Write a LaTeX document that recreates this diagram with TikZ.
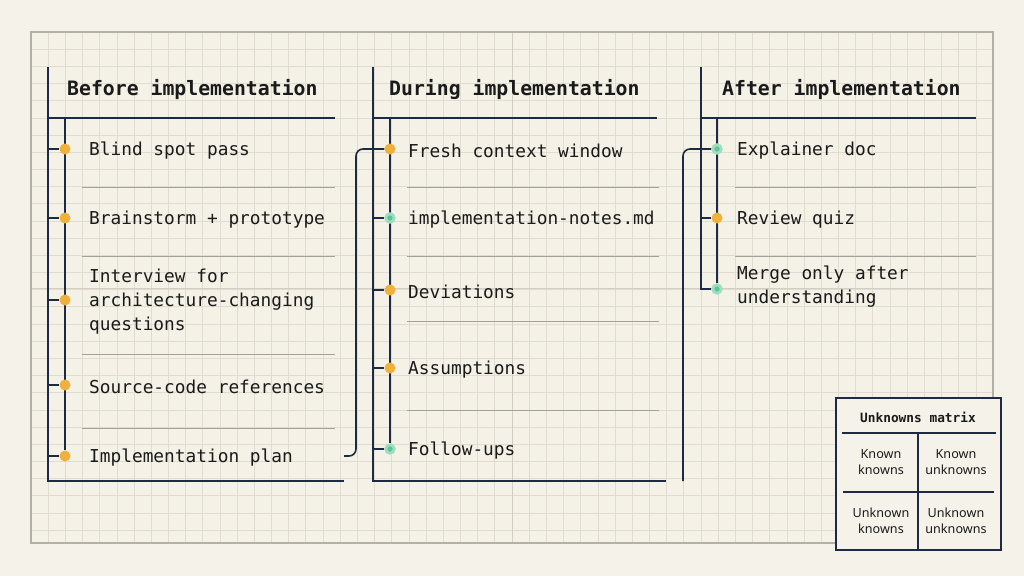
\documentclass[tikz,border=0pt]{standalone}
\usepackage{fontspec}
\usepackage{xcolor}
\usetikzlibrary{positioning,backgrounds}
\newfontfamily\monofont{DejaVu Sans Mono}
\newfontfamily\cellfont{Noto Sans}
\definecolor{paper}{HTML}{F5F2E9}
\definecolor{panel}{HTML}{F4F1E7}
\definecolor{gridline}{HTML}{E0DCD0}
\definecolor{gridmajor}{HTML}{D2CEC3}
\definecolor{paneledge}{HTML}{B3B0A6}
\definecolor{navy}{HTML}{1E2A44}
\definecolor{rulegrey}{HTML}{A3A199}
\definecolor{ink}{HTML}{1A1A1A}
\definecolor{dotorange}{HTML}{F0B13C}
\definecolor{dotgreen}{HTML}{5FC594}
\definecolor{halo}{HTML}{9FDDC2}

\begin{document}
\begin{tikzpicture}[x=1pt, y=-1pt,
  frame/.style={draw=navy, line width=1.6pt},
  link/.style={draw=navy, line width=1.6pt, rounded corners=7pt},
  sep/.style={draw=rulegrey, line width=1pt},
  head/.style={font=\monofont\bfseries\fontsize{19.8}{24}\selectfont, text=ink, anchor=base west, inner sep=0pt},
  item/.style={font=\monofont\fontsize{17.8}{24}\selectfont, text=ink, align=left, inner sep=0pt, anchor=west, yshift=-1.5pt},
  warm/.style={circle, fill=dotorange, minimum size=11pt, inner sep=0pt},
  cool/.style={circle, fill=dotgreen, draw=halo, line width=2.8pt, minimum size=8.5pt, inner sep=0pt},
  mxbox/.style={draw=navy, line width=1.3pt, fill=paper, minimum width=165pt, minimum height=152pt, inner sep=0pt},
  mxtitle/.style={font=\monofont\bfseries\fontsize{12.8}{15}\selectfont, text=ink, inner sep=0pt},
  cell/.style={font=\cellfont\fontsize{12.6}{16}\selectfont, text=ink, align=center, inner sep=0pt}]
  \useasboundingbox (0,0) rectangle (1024,576);

  % column corners and text margins
  \coordinate (bTop) at (48,67);
  \coordinate (bEnd) at (344,481);
  \coordinate (dTop) at (373,67);
  \coordinate (dEnd) at (666,481);
  \coordinate (aTop) at (701,67);
  \coordinate (dFoot) at (683,481);
  \coordinate (bText) at (89,0);
  \coordinate (dText) at (408,0);
  \coordinate (aText) at (737,0);

  % before
  \node[head] (bHead) at (67,95) {Before implementation};
  \node[warm] (b1) at (65,149) {};
  \node[warm] (b2) at (65,218) {};
  \node[warm] (b3) at (65,300) {};
  \node[warm] (b4) at (65,385) {};
  \node[warm] (b5) at (65,456) {};
  \node[item] (tb1) at (b1 -| bText) {Blind spot pass};
  \node[item] (tb2) at (b2 -| bText) {Brainstorm + prototype};
  \node[item] (tb3) at (b3 -| bText) {Interview for\\architecture-changing\\questions};
  \node[item] (tb4) at (b4 -| bText) {Source-code references};
  \node[item] (tb5) at (b5 -| bText) {Implementation plan};

  % during
  \node[head] (dHead) at (389,95) {During implementation};
  \node[warm] (d1) at (390,149) {};
  \node[cool] (d2) at (390,218) {};
  \node[warm] (d3) at (390,290) {};
  \node[warm] (d4) at (390,368) {};
  \node[cool] (d5) at (390,449) {};
  \node[item] (td1) at (d1 -| dText) {Fresh context window};
  \node[item] (td2) at (d2 -| dText) {implementation-notes.md};
  \node[item] (td3) at (d3 -| dText) {Deviations};
  \node[item] (td4) at (d4 -| dText) {Assumptions};
  \node[item] (td5) at (d5 -| dText) {Follow-ups};

  % after
  \node[head] (aHead) at (722,95) {After implementation};
  \node[cool] (a1) at (717,149) {};
  \node[warm] (a2) at (717,218) {};
  \node[cool] (a3) at (717,289) {};
  \node[item] (ta1) at (a1 -| aText) {Explainer doc};
  \node[item] (ta2) at (a2 -| aText) {Review quiz};
  \node[item, yshift=4pt] (ta3) at (a3 -| aText) {Merge only after\\understanding};

  % unknowns matrix
  \node[mxbox] (mx) at (918.5,474) {};
  \node[mxtitle] (mxHead) at (918,417) {Unknowns matrix};
  \coordinate (mxL) at (842,433);
  \coordinate (mxR) at (996,433);
  \coordinate (mxMidL) at (843,492);
  \coordinate (mxMidR) at (994,492);
  \draw[navy, line width=1.3pt] (mxL) -- (mxR);
  \draw[navy, line width=1.3pt] (mxMidL) -- (mxMidR);
  \draw[navy, line width=1.3pt] (918,433) -- (918,550);
  \node[cell] (kk) at (881,462) {Known\\knowns};
  \node[cell] (ku) at (956,462) {Known\\unknowns};
  \node[cell] (uk) at (881,521) {Unknown\\knowns};
  \node[cell] (uu) at (956,521) {Unknown\\unknowns};

  \begin{scope}[on background layer]
    \fill[paper] (0,0) rectangle (1024,576);
    \fill[panel] (31,32) rectangle (993,543);
    \foreach \gx in {0,...,56}
      \draw[gridline, line width=0.8pt] ({31+\gx*17.18},32) -- ({31+\gx*17.18},543);
    \foreach \gy in {0,...,29}
      \draw[gridline, line width=0.8pt] (31,{32+\gy*17.18}) -- (993,{32+\gy*17.18});
    \draw[gridmajor, line width=1pt] (512,32) -- (512,543);
    \draw[gridmajor, line width=1pt] (31,288) -- (993,288);
    \draw[paneledge, line width=1.2pt] (31,32) rectangle (993,543);

    % frames and header rules
    \draw[frame] (bTop) -- (bTop |- bEnd) -- (bEnd);
    \draw[frame] (dTop) -- (dTop |- dEnd) -- (dEnd);
    \draw[frame] (aTop) |- (a3);
    \draw[frame] (48,118) -- (335,118);
    \draw[frame] (373,118) -- (657,118);
    \draw[frame] (701,118) -- (976,118);

    % spines and ticks
    \draw[frame] (b1 |- 0,118) -- (b5);
    \draw[frame] (d1 |- 0,118) -- (d5);
    \draw[frame] (a1 |- 0,118) -- (a3);
    \foreach \n in {b1,b2,b3,b4,b5}
      \draw[frame] (\n -| bTop) -- (\n);
    \foreach \n in {d1,d2,d3,d4,d5}
      \draw[frame] (\n -| dTop) -- (\n);
    \foreach \n in {a1,a2}
      \draw[frame] (\n -| aTop) -- (\n);

    % separators
    \foreach \sy in {187,256,354,428}
      \draw[sep] (82,\sy) -- (335,\sy);
    \foreach \sy in {187,256,321,410}
      \draw[sep] (407,\sy) -- (659,\sy);
    \foreach \sy in {187,256}
      \draw[sep] (735,\sy) -- (976,\sy);

    % hand-offs between phases
    \draw[link] (b5 -| bEnd) -| (356,300) |- (d1);
    \draw[link] (dFoot) |- (a1);
  \end{scope}
\end{tikzpicture}
\end{document}
